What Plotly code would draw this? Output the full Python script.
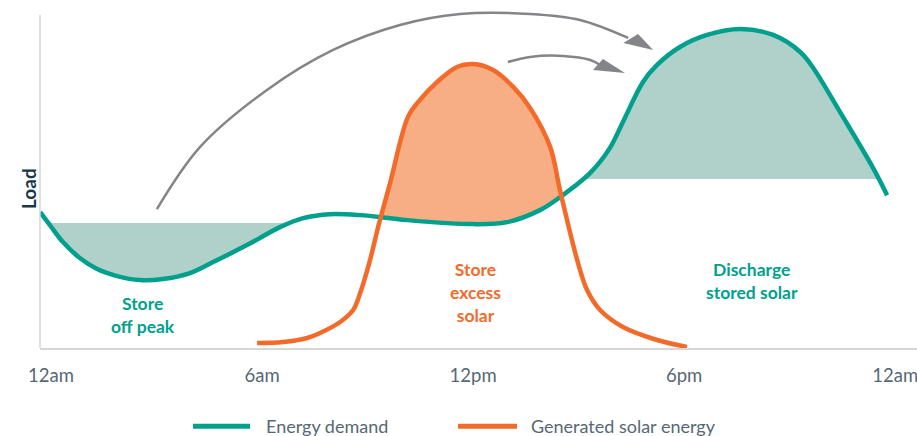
import plotly.graph_objects as go

# ---------------- data (hours of day, relative load) ----------------
hours_demand = [-0.31, -0.03, 0.34, 0.82, 1.31, 1.88, 2.53, 3.18, 3.95, 4.61, 5.57,
                6.51, 7.17, 7.93, 8.79, 10.12, 12.00, 12.97, 13.90, 14.47, 15.33,
                15.89, 16.26, 16.83, 17.23, 17.88, 18.65, 19.59, 20.53, 21.30, 21.67,
                22.43, 23.37, 23.77]
load_demand = [40.8, 36.9, 31.8, 27.0, 23.7, 21.6, 20.4, 20.7, 22.5, 25.8, 30.9,
               36.3, 39.0, 40.2, 39.9, 38.4, 37.2, 37.8, 41.4, 45.3, 52.6,
               60.1, 67.9, 79.9, 85.0, 90.4, 94.0, 95.8, 94.0, 88.9, 84.1,
               70.9, 54.1, 45.9]

hours_solar = [5.86, 6.60, 7.28, 7.65, 8.22, 8.59, 8.79, 9.07, 9.30, 9.64, 10.15,
               10.49, 10.98, 11.54, 12.00, 12.57, 13.14, 13.62, 14.19, 14.47,
               14.96, 15.24, 15.61, 16.26, 17.23, 18.08]
load_solar = [1.5, 1.8, 3.0, 4.5, 7.8, 11.4, 16.5, 26.4, 36.3, 49.5, 69.4,
              74.5, 79.9, 84.4, 85.3, 83.5, 78.4, 72.1, 60.4, 47.4,
              26.4, 17.4, 11.4, 6.3, 2.4, 0.3]

offpeak_level = 37.5
offpeak_span = [-0.07, 6.72]
discharge_level = 50.75
discharge_span = [15.11, 23.53]
excess_span = [9.39, 14.51]
excess_cross_load = [39.6, 45.6]

tick_hours = [0, 6, 12, 18, 24]
tick_labels = ["12am", "6am", "12pm", "6pm", "12am"]

# decorative arrows (hours, load)
arc1_h = [3.01, 4.24, 6.14, 8.02, 9.92, 11.63, 13.62, 15.04, 16.41]
arc1_l = [41.7, 60.4, 77.5, 89.5, 97.0, 100.3, 100.3, 98.5, 93.1]
head1_h = [16.27, 16.69, 17.12]
head1_l = [91.6, 94.3, 89.5]
arc2_h = [12.99, 13.62, 14.56, 15.33, 15.61]
arc2_l = [85.9, 87.4, 87.7, 86.5, 85.0]
head2_h = [15.41, 15.69, 16.32]
head2_l = [83.5, 86.8, 82.6]

TEAL = "#00a08c"
ORANGE = "#f26b2b"
TEAL_FILL = "#afd1ca"
ORANGE_FILL = "#f8ae84"
GRAY = "#838588"
TXT = "#566875"
FONT = "Lato"


def segment(xs, ys, x0, y0, x1, y1):
    sx = [x0] + [x for x in xs if x0 < x < x1] + [x1]
    sy = [y0] + [y for x, y in zip(xs, ys) if x0 < x < x1] + [y1]
    return sx, sy


fig = go.Figure()
SM = 1.0

# off-peak fill
sx, sy = segment(hours_demand, load_demand, offpeak_span[0], offpeak_level,
                 offpeak_span[1], offpeak_level)
fig.add_trace(go.Scatter(x=offpeak_span, y=[offpeak_level] * 2, mode="lines",
                         line=dict(width=0), hoverinfo="skip", showlegend=False))
fig.add_trace(go.Scatter(x=sx, y=sy, mode="lines", line=dict(width=0, shape="spline", smoothing=SM),
                         fill="tonexty", fillcolor=TEAL_FILL, hoverinfo="skip", showlegend=False))

# discharge fill
sx, sy = segment(hours_demand, load_demand, discharge_span[0], discharge_level,
                 discharge_span[1], discharge_level)
fig.add_trace(go.Scatter(x=discharge_span, y=[discharge_level] * 2, mode="lines",
                         line=dict(width=0), hoverinfo="skip", showlegend=False))
fig.add_trace(go.Scatter(x=sx, y=sy, mode="lines", line=dict(width=0, shape="spline", smoothing=SM),
                         fill="tonexty", fillcolor=TEAL_FILL, hoverinfo="skip", showlegend=False))

# excess solar fill
dx, dy = segment(hours_demand, load_demand, excess_span[0], excess_cross_load[0],
                 excess_span[1], excess_cross_load[1])
ox, oy = segment(hours_solar, load_solar, excess_span[0], excess_cross_load[0],
                 excess_span[1], excess_cross_load[1])
fig.add_trace(go.Scatter(x=dx, y=dy, mode="lines", line=dict(width=0, shape="spline", smoothing=SM),
                         hoverinfo="skip", showlegend=False))
fig.add_trace(go.Scatter(x=ox, y=oy, mode="lines", line=dict(width=0, shape="spline", smoothing=SM),
                         fill="tonexty", fillcolor=ORANGE_FILL, hoverinfo="skip", showlegend=False))

# main lines
fig.add_trace(go.Scatter(x=hours_demand, y=load_demand, mode="lines", name="Energy demand",
                         line=dict(color=TEAL, width=4.5, shape="spline", smoothing=SM),
                         showlegend=False))
fig.add_trace(go.Scatter(x=hours_solar, y=load_solar, mode="lines", name="Generated solar energy",
                         line=dict(color=ORANGE, width=4.5, shape="spline", smoothing=SM),
                         showlegend=False))

# arrows
for ah, al, hh, hl in [(arc1_h, arc1_l, head1_h, head1_l), (arc2_h, arc2_l, head2_h, head2_l)]:
    fig.add_trace(go.Scatter(x=ah, y=al, mode="lines", line=dict(color=GRAY, width=2.5, shape="spline"),
                             hoverinfo="skip", showlegend=False))
    fig.add_trace(go.Scatter(x=hh, y=hl, mode="lines", fill="toself", fillcolor=GRAY,
                             line=dict(width=0), hoverinfo="skip", showlegend=False))

# region labels
labels = [
    (2.62, 9.9, "Store<br>off peak", TEAL),
    (12.06, 16.8, "Store<br>excess<br>solar", ORANGE),
    (19.93, 20.1, "Discharge<br>stored solar", TEAL),
]
for x, y, t, c in labels:
    fig.add_annotation(x=x, y=y, text=t, showarrow=False, xref="x", yref="y",
                       font=dict(family=FONT, size=17.5, color=c, weight="bold"), align="center")

# y-axis title
fig.add_annotation(x=-0.0285, y=0.465, xref="paper", yref="paper", text="<b>Load</b>", textangle=-90,
                   showarrow=False, font=dict(family=FONT, size=19, color="#15384a"))

# y-axis line
fig.add_shape(type="line", xref="paper", yref="y", x0=0, x1=0, y0=0, y1=100,
              line=dict(color="#d6d6d6", width=1.5))

# manual legend
legend_items = [("Energy demand", TEAL, 0.1745, 0.2395, 0.2555),
                ("Generated solar energy", ORANGE, 0.4766, 0.5439, 0.5575)]
for name, col, x0, x1, xt in legend_items:
    fig.add_shape(type="line", xref="paper", yref="paper", x0=x0, x1=x1, y0=-0.228, y1=-0.228,
                  line=dict(color=col, width=5))
    fig.add_annotation(x=xt, y=-0.228, xref="paper", yref="paper", text=name, showarrow=False,
                       xanchor="left", yanchor="middle", font=dict(family=FONT, size=18, color=TXT))

fig.update_layout(
    width=917, height=436,
    margin=dict(l=40, r=0, t=5, b=88),
    plot_bgcolor="white", paper_bgcolor="white",
    showlegend=False,
    xaxis=dict(range=[-0.313, 24.62], showgrid=False, zeroline=False, showline=True,
               linecolor="#d6d6d6", linewidth=1.5, tickvals=tick_hours, ticktext=tick_labels,
               ticks="", ticklabelstandoff=10, ticklabeloverflow="allow",
               tickfont=dict(family=FONT, size=18.5, color=TXT)),
    yaxis=dict(range=[0, 103], visible=False, showgrid=False, zeroline=False),
)

fig.write_html("out.html")
